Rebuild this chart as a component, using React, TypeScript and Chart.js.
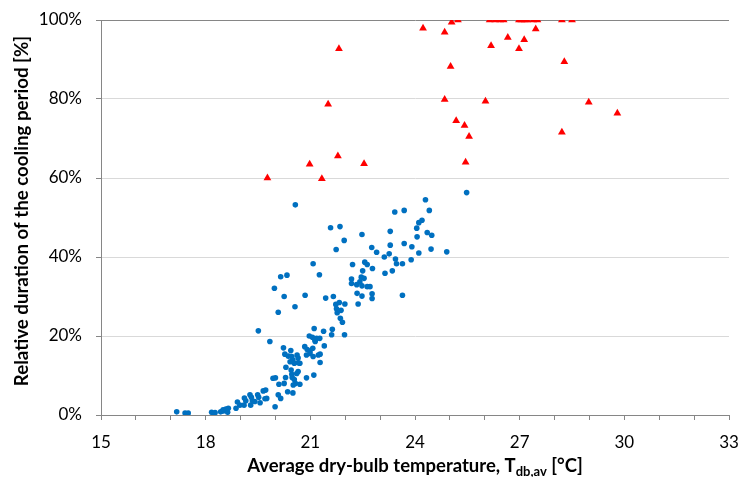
import { useEffect, useRef } from "react";
import { Chart, registerables } from "chart.js";

Chart.register(...registerables);

// Blue series: average dry-bulb temperature [°C] vs relative duration [%]
const blueX = [
  20.57, 25.48, 24.3, 23.42, 23.69, 24.41, 24.2, 24.11, 24.05, 21.58, 21.85, 23.29, 22.48, 24.35, 24.48, 24.06,
  21.97, 23.29, 23.69, 23.91, 22.76, 21.74, 22.9, 23.26, 24.11, 24.46, 24.91, 23.12, 23.44, 23.47, 23.64, 23.89,
  22.56, 22.63, 22.21, 21.08, 22.78, 22.5, 23.35, 23.14, 21.26, 20.33, 20.15, 22.46, 22.54, 22.18, 22.18, 22.42,
  22.33, 22.48, 22.63, 22.71, 19.97, 20.25, 20.85, 21.44, 21.66, 22.34, 22.48, 22.77, 22.77, 23.64,
  20.08, 20.56, 21.73, 21.83, 21.75, 21.77, 21.88, 21.86, 21.92, 21.99, 22.37, 19.51, 19.84, 21.11, 21.38, 21.63,
  21.61, 21.98, 20.97, 21.06, 21.14, 21.18, 21.4, 20.84, 20.91, 20.99, 21.08, 21.28, 21.28, 21.07, 20.23, 20.37,
  20.44, 20.47, 20.5, 20.54, 20.62, 20.65, 20.3, 20.45, 20.47, 20.48, 20.54, 20.57, 20.65, 20.51, 20.89, 21.1,
  20.0, 19.93, 20.1, 20.25, 20.08, 20.15, 20.35, 20.5, 19.99, 19.72, 19.75, 19.49, 19.52, 19.27, 19.31, 19.29,
  19.15, 19.1, 18.98, 18.91, 18.87, 18.65, 18.6, 18.5, 18.43, 18.27, 18.17, 18.22, 17.5, 17.41, 17.17,
  19.11, 19.34, 19.41, 19.56, 19.65, 19.7, 18.5, 18.63, 18.58,
  20.27, 20.65, 20.7, 20.42, 20.61, 20.7, 20.29, 20.99, 20.89, 21.23, 21.13, 21.27,
];
const blueY = [
  53.2, 56.3, 54.5, 51.4, 51.8, 51.8, 49.3, 48.7, 47.3, 47.4, 47.7, 46.5, 45.7, 46.2, 45.5, 45.1,
  44.2, 43.0, 43.4, 42.6, 42.4, 41.9, 41.2, 40.8, 41.0, 42.0, 41.3, 40.0, 39.5, 38.3, 38.3, 39.3,
  38.7, 38.1, 38.1, 38.3, 37.1, 36.5, 36.5, 35.9, 35.5, 35.4, 35.0, 34.9, 34.6, 34.4, 33.3, 33.7,
  33.0, 32.7, 32.5, 32.5, 32.1, 30.0, 30.3, 29.6, 30.0, 30.8, 30.1, 30.7, 29.5, 30.3,
  26.0, 27.4, 28.0, 28.5, 26.9, 25.9, 26.5, 24.5, 23.5, 28.1, 28.1, 21.3, 18.6, 21.9, 21.2, 21.7,
  20.3, 20.3, 20.0, 19.7, 18.6, 19.4, 17.5, 17.3, 16.6, 16.2, 14.8, 15.4, 13.3, 16.9, 17.0, 14.9,
  16.3, 14.8, 13.9, 13.1, 15.2, 13.2, 12.1, 11.4, 10.3, 9.5, 9.0, 8.0, 11.0, 7.6, 9.4, 10.1,
  9.4, 9.3, 7.8, 8.0, 5.1, 4.2, 5.9, 5.6, 2.1, 6.3, 4.2, 5.1, 4.5, 5.1, 4.5, 2.5,
  3.6, 2.5, 2.5, 3.3, 1.7, 1.7, 1.1, 1.0, 0.8, 0.6, 0.7, 0.2, 0.5, 0.5, 0.8,
  4.3, 3.6, 3.4, 3.1, 6.1, 4.1, 1.3, 0.7, 1.5,
  15.4, 14.4, 13.1, 13.5, 10.5, 7.8, 9.5, 15.6, 15.2, 15.2, 19.0, 19.4,
];

// Red series (triangles)
const redX = [
  19.77, 20.98, 21.33, 21.51, 21.79, 21.82, 22.54, 24.23, 24.85, 24.85, 25.02, 25.05, 25.18, 25.23, 25.42, 25.45,
  25.55, 26.02, 26.14, 26.18, 26.3, 26.44, 26.54, 26.66, 26.98, 26.98, 27.05, 27.13, 27.15, 27.21, 27.39, 27.46,
  27.51, 28.21, 28.21, 28.28, 28.5, 28.98, 29.8,
];
const redY = [
  60.0, 63.5, 59.8, 78.7, 65.6, 92.7, 63.6, 97.9, 96.9, 79.9, 88.2, 99.4, 74.5, 100, 73.3, 64.0,
  70.5, 79.4, 100, 93.5, 100, 100, 100, 95.6, 100, 92.7, 100, 95.0, 100, 100, 100, 97.7,
  100, 100, 71.6, 89.4, 100, 79.2, 76.4,
];

const xMin = 15;
const xMax = 33;
const xLabelStep = 3;
const yTicks = [0, 20, 40, 60, 80, 100];

const yTitle = "Relative duration of the cooling period [%]";
const xTitleMain = "Average dry-bulb temperature, T";
const xTitleSub = "db,av";
const xTitleEnd = " [°C]";

const FONT = "Lato, 'Liberation Sans', sans-serif";

const titlesPlugin = {
  id: "customTitles",
  afterDraw(chart: any) {
    const { ctx, chartArea } = chart;
    ctx.save();
    ctx.fillStyle = "#000";
    ctx.textBaseline = "middle";
    ctx.textAlign = "center";
    ctx.font = `bold 18.7px ${FONT}`;
    ctx.translate(22, 211);
    ctx.rotate(-Math.PI / 2);
    ctx.fillText(yTitle, 0, 0);
    ctx.restore();

    ctx.save();
    ctx.fillStyle = "#000";
    ctx.textBaseline = "alphabetic";
    ctx.textAlign = "left";
    const mainFont = `bold 18.5px ${FONT}`;
    const subFont = `bold 13px ${FONT}`;
    ctx.font = mainFont;
    const w1 = ctx.measureText(xTitleMain).width;
    const w3 = ctx.measureText(xTitleEnd).width;
    ctx.font = subFont;
    const w2 = ctx.measureText(xTitleSub).width;
    const total = w1 + w2 + w3;
    const cx = (chartArea.left + chartArea.right) / 2;
    let x = cx - total / 2;
    const base = 472;
    ctx.font = mainFont;
    ctx.fillText(xTitleMain, x, base);
    x += w1;
    ctx.font = subFont;
    ctx.fillText(xTitleSub, x, base + 4);
    x += w2;
    ctx.font = mainFont;
    ctx.fillText(xTitleEnd, x, base);
    ctx.restore();
  },
};

export default function App() {
  const ref = useRef<HTMLCanvasElement | null>(null);

  useEffect(() => {
    document.body.style.margin = "0";
    const canvas = ref.current;
    if (!canvas) return;
    const blue = blueX.map((x, i) => ({ x, y: blueY[i] }));
    const red = redX.map((x, i) => ({ x, y: redY[i] }));
    const chart = new Chart(canvas, {
      type: "scatter",
      data: {
        datasets: [
          {
            data: red,
            pointStyle: "triangle",
            pointRadius: 4.5,
            pointHoverRadius: 4.5,
            backgroundColor: "#FF0000",
            borderColor: "#FF0000",
            borderWidth: 0,
          },
          {
            data: blue,
            pointStyle: "circle",
            pointRadius: 2.8,
            pointHoverRadius: 2.8,
            backgroundColor: "#0070C0",
            borderColor: "#0070C0",
            borderWidth: 0,
          },
        ],
      },
      options: {
        responsive: false,
        animation: false,
        events: [],
        layout: { padding: { top: 20, right: 11, left: 0, bottom: 0 } },
        plugins: { legend: { display: false }, tooltip: { enabled: false } },
        scales: {
          x: {
            type: "linear",
            min: xMin,
            max: xMax,
            afterFit: (scale: any) => {
              scale.height = 62;
              scale.paddingLeft = 0;
              scale.paddingRight = 0;
            },
            ticks: {
              stepSize: 1,
              autoSkip: false,
              maxRotation: 0,
              padding: 12,
              color: "#000",
              font: { family: FONT, size: 17 },
              callback: (v: any) => ((Number(v) - xMin) % xLabelStep === 0 ? String(v) : ""),
            },
            grid: {
              drawOnChartArea: false,
              drawTicks: true,
              tickLength: 5,
              tickColor: "#868686",
              color: "#868686",
            },
            border: { display: true, color: "#868686", width: 1 },
          },
          y: {
            type: "linear",
            min: yTicks[0],
            max: yTicks[yTicks.length - 1],
            afterFit: (scale: any) => {
              scale.width = 101;
              scale.paddingTop = 0;
              scale.paddingBottom = 0;
            },
            afterBuildTicks: (scale: any) => {
              scale.ticks = yTicks.map((v) => ({ value: v }));
            },
            ticks: {
              padding: 14,
              color: "#000",
              font: { family: FONT, size: 17 },
              callback: (v: any) => `${v}%`,
            },
            grid: {
              color: (c: any) => (c.tick && c.tick.value === 100 ? "#868686" : "#d9d9d9"),
              lineWidth: 1,
              tickLength: 5,
              tickColor: "#868686",
            },
            border: { display: true, color: "#868686", width: 1 },
          },
        },
      },
      plugins: [titlesPlugin],
    });
    return () => chart.destroy();
  }, []);

  return (
    <div style={{ width: 740, height: 477, position: "relative", background: "#fff" }}>
      <canvas ref={ref} width={740} height={477} style={{ display: "block" }} />
    </div>
  );
}
